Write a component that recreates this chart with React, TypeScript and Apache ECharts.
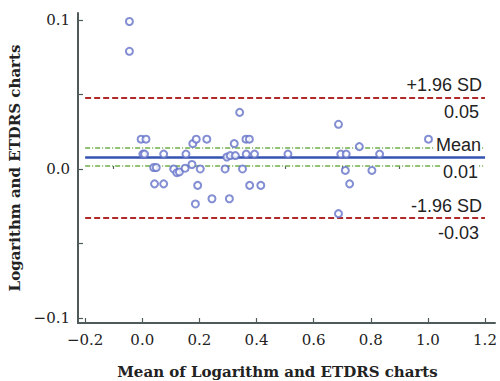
import React, { useEffect, useRef } from "react";
import * as echarts from "echarts";

// Bland-Altman data: mean of the two methods (x) and their difference (y)
const meanVals = [
  -0.045, -0.045, 0.341, -0.004, 0.013, 0.177, 0.189, 0.226, 0.322, 0.363, 0.375,
  0.002, 0.008, 0.075, 0.153, 0.296, 0.308, 0.326, 0.364, 0.393, 0.51,
  0.04, 0.049, 0.11, 0.121, 0.13, 0.15, 0.174, 0.203, 0.043, 0.075, 0.194,
  0.186, 0.244, 0.29, 0.351, 0.376, 0.415, 0.305, 0.687, 1.002, 0.76,
  0.695, 0.714, 0.831, 0.711, 0.804, 0.726, 0.687,
];
const diffVals = [
  0.099, 0.079, 0.038, 0.02, 0.02, 0.017, 0.02, 0.02, 0.017, 0.02, 0.02,
  0.01, 0.01, 0.01, 0.01, 0.008, 0.009, 0.009, 0.01, 0.01, 0.01,
  0.001, 0.001, 0, -0.0025, -0.002, 0.0005, 0.003, 0, -0.01, -0.01, -0.011,
  -0.0235, -0.02, 0, 0, -0.011, -0.011, -0.02, 0.03, 0.02, 0.015,
  0.01, 0.01, 0.01, -0.001, -0.001, -0.01, -0.03,
];

const meanDiff = 0.008;
const meanCI = [0.002, 0.014];
const upperLoA = 0.048;
const lowerLoA = -0.033;
const lineXRange = [-0.2, 1.2];

const xMajorTicks = [-0.2, 0, 0.2, 0.4, 0.6, 0.8, 1.0, 1.2];
const xMinorTicks = [-0.1, 0.1, 0.3, 0.5, 0.7, 0.9, 1.1];
const yTicks = [-0.1, -0.05, 0, 0.05, 0.1];
const yLabels = [-0.1, 0, 0.1];

const upperLabels = ["+1.96 SD", "0.05"];
const meanLabels = ["Mean", "0.01"];
const lowerLabels = ["-1.96 SD", "-0.03"];

const fmt = (v: number) => {
  const s = (Math.abs(v) < 1e-9 ? 0 : v).toFixed(1);
  return s.replace("-", "\u2212");
};

export default function App() {
  const ref = useRef<HTMLDivElement>(null);
  useEffect(() => {
    if (!ref.current) return;
    const chart = echarts.init(ref.current, null, { renderer: "svg" });
    const axisColor = "#4f5b5b";
    const tickFont = { fontFamily: "DejaVu Serif", fontSize: 15, color: "#222" };
    const nameFont = { fontFamily: "DejaVu Serif", fontSize: 15, fontWeight: "bold" as const, color: "#222" };
    const lblFont = { fontFamily: "Liberation Sans", fontSize: 18, color: "#222" };

    const seg = (y: number, lineStyle: any, label: any) => [
      { coord: [lineXRange[0], y], lineStyle, label },
      { coord: [lineXRange[1], y] },
    ];
    const redStyle = { color: "#b02a2a", width: 2, type: [6, 3] };
    const greenStyle = { color: "#6fae4a", width: 1.5, type: [5, 2, 1, 2] };
    const blueStyle = { color: "#3553b0", width: 2.5, type: "solid" };
    const hidden = { color: "rgba(0,0,0,0)", width: 1 };
    const top = (t: string, bg?: boolean) => ({
      show: true, position: "insideEndTop", formatter: t, distance: 3, ...lblFont,
      ...(bg ? { backgroundColor: "#fff", padding: [0, 1, 0, 2] } : {}),
    });
    const bot = (t: string, bg?: boolean) => ({
      show: true, position: "insideEndBottom", formatter: t, distance: 6, ...lblFont,
      ...(bg ? { backgroundColor: "#fff", padding: [0, 1, 0, 2] } : {}),
    });
    const noLabel = { show: false };

    chart.setOption({
      animation: false,
      backgroundColor: "#fff",
      grid: { left: 78, right: 5, top: 13, bottom: 58, outerBoundsMode: "none", containLabel: false },
      xAxis: [
        {
          type: "value", min: -0.225, max: 1.235, position: "bottom",
          axisLine: { show: true, onZero: false, lineStyle: { color: axisColor, width: 2 } },
          axisTick: { show: true, inside: true, length: 5, customValues: xMajorTicks, lineStyle: { color: axisColor, width: 1.2 } },
          axisLabel: { show: true, customValues: xMajorTicks, formatter: fmt, margin: 9, ...tickFont },
          splitLine: { show: false },
          name: "Mean of Logarithm and ETDRS charts", nameLocation: "middle", nameGap: 41,
          nameTextStyle: { ...nameFont, padding: [0, 18, 0, 0] },
        },
        {
          type: "value", min: -0.225, max: 1.235, position: "bottom", offset: 0,
          axisLine: { show: false },
          axisTick: { show: true, inside: true, length: 3, customValues: xMinorTicks, lineStyle: { color: axisColor, width: 1.2 } },
          axisLabel: { show: false },
          splitLine: { show: false },
        },
      ],
      yAxis: {
        type: "value", min: -0.1034, max: 0.1047,
        axisLine: { show: true, onZero: false, lineStyle: { color: axisColor, width: 2 } },
        axisTick: { show: true, inside: true, length: 5, customValues: yTicks, lineStyle: { color: axisColor, width: 1.2 } },
        axisLabel: { show: true, customValues: yLabels, formatter: fmt, margin: 8, ...tickFont },
        splitLine: { show: false },
        name: "Logarithm and ETDRS charts", nameLocation: "middle", nameGap: 49, nameRotate: 90,
        nameTextStyle: nameFont,
      },
      series: [
        {
          type: "scatter",
          xAxisIndex: 0,
          data: meanVals.map((x, i) => [x, diffVals[i]]),
          symbol: "emptyCircle",
          symbolSize: 7,
          itemStyle: { color: "#6472c8", borderWidth: 1 },
          z: 3,
          markLine: {
            silent: true,
            symbol: "none",
            z: 2,
            data: [
              seg(meanCI[1], greenStyle, noLabel),
              seg(meanCI[0], greenStyle, noLabel),
              seg(upperLoA, redStyle, top(upperLabels[0])),
              seg(upperLoA, hidden, bot(upperLabels[1])),
              seg(lowerLoA, redStyle, top(lowerLabels[0])),
              seg(lowerLoA, hidden, bot(lowerLabels[1])),
              seg(meanDiff, blueStyle, top(meanLabels[0], true)),
              seg(meanDiff, hidden, bot(meanLabels[1], true)),
            ],
          },
        },
      ],
    });
    return () => chart.dispose();
  }, []);
  return (
    <div
      ref={ref}
      style={{ position: "absolute", left: 0, top: 0, width: 500, height: 381 }}
    />
  );
}
